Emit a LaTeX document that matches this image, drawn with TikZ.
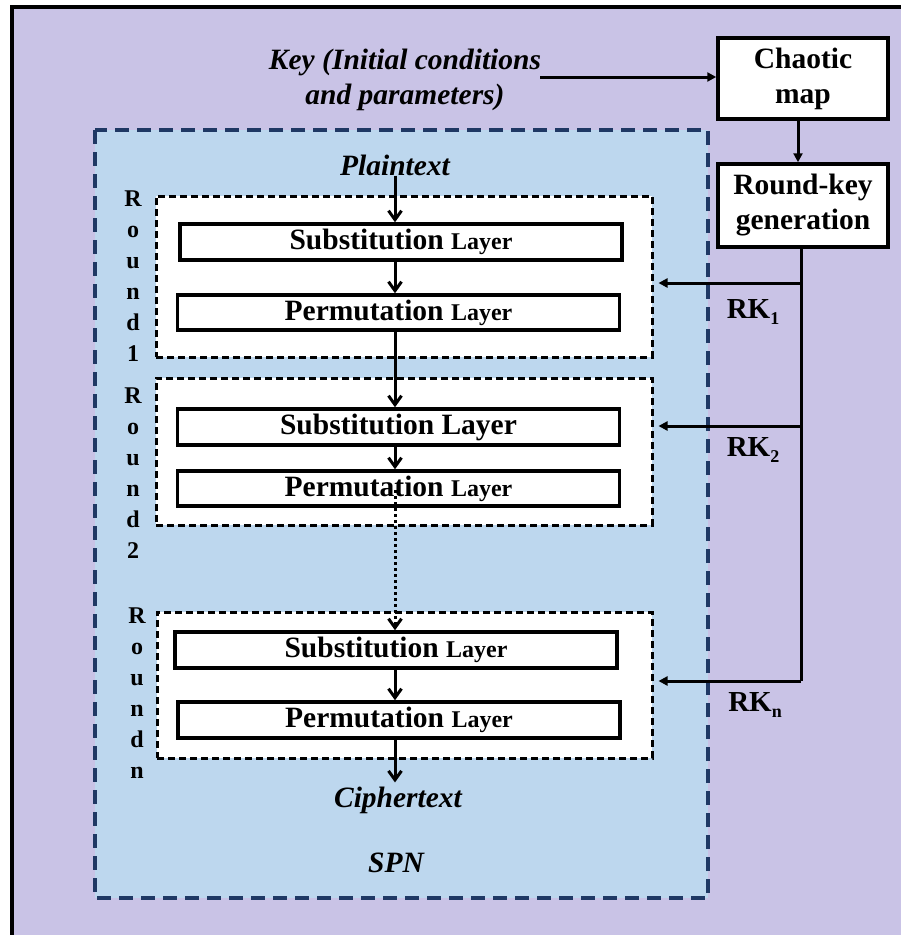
\documentclass[tikz,border=0pt]{standalone}
\usepackage{fontspec}
\setmainfont{Liberation Serif}
\usetikzlibrary{arrows.meta,calc}
\definecolor{lilac}{HTML}{C9C3E6}
\definecolor{paleblue}{HTML}{BDD7EE}
\definecolor{navy}{HTML}{1F3864}
\newcommand\smallword[1]{{\fontsize{24}{30}\selectfont #1}}
\newcommand\keysub[1]{\raisebox{-6pt}{\fontsize{18}{20}\selectfont #1}}

\begin{document}
\begin{tikzpicture}[x=1pt,y=-1pt,
  bigtxt/.style={font=\fontsize{29.5}{35}\selectfont\bfseries},
  itxt/.style={font=\fontsize{29.5}{35}\selectfont\bfseries\itshape},
  keybox/.style={draw, line width=3.5pt, fill=white, minimum width=170pt, inner sep=0pt, align=center, bigtxt},
  layerbox/.style={draw, line width=3.5pt, fill=white, minimum width=442pt, minimum height=35pt, inner sep=0pt, bigtxt},
  roundbox/.style={draw, line width=3pt, dash pattern=on 7pt off 4pt, fill=white, inner sep=0pt},
  roundlbl/.style={font=\fontsize{24}{31}\selectfont\bfseries, align=center, inner sep=0pt},
  rklbl/.style={font=\fontsize{29}{32}\selectfont\bfseries, inner sep=0pt},
  flow/.style={line width=3pt, -{Straight Barb[length=9pt,width=13pt,line width=3pt]}},
  feed/.style={line width=3pt, -{Triangle[length=9pt,width=9pt]}}
]
\useasboundingbox (0,0) rectangle (901,935);

% page background and frame
\fill[white] (0,0) rectangle (901,935);
\fill[lilac] (12,7) rectangle (901,935);
\draw[line width=3.5pt] (12,935) -- (12,7) -- (901,7);

% SPN area
\draw[navy, fill=paleblue, line width=3.2pt, dash pattern=on 14pt off 8pt] (95,130) rectangle (708,898);

% key input and key schedule
\node[itxt, align=center, inner sep=0pt] (key) at (405,80) {Key (Initial conditions\\and parameters)};
\coordinate (keyend) at (540,77);
\node[keybox, minimum height=81pt] (chaos) at (803,78.5) {Chaotic\\map};
\node[keybox, minimum height=83pt] (rkg) at (803,205.5) {Round-key\\generation};

% round containers
\node[roundbox, minimum width=496pt, minimum height=161pt] (r1) at (404,276.5) {};
\node[roundbox, minimum width=496pt, minimum height=147pt] (r2) at (404,451.5) {};
\node[roundbox, minimum width=495pt, minimum height=146pt] (rn) at (404.5,685) {};

% layers
\node[layerbox, minimum height=36pt] (s1) at (401,242) {Substitution \smallword{Layer}};
\node[layerbox] (p1) at (398.5,312.5) {Permutation \smallword{Layer}};
\node[layerbox, minimum height=36pt] (s2) at (398.5,427) {Substitution Layer};
\node[layerbox] (p2) at (398.5,488.5) {Permutation \smallword{Layer}};
\node[layerbox, minimum height=36pt] (sn) at (396,650) {Substitution \smallword{Layer}};
\node[layerbox, minimum height=36pt] (pn) at (399,720) {Permutation \smallword{Layer}};

% texts
\node[itxt, inner sep=0pt] (pt) at (395,165) {Plaintext};
\node[itxt, inner sep=0pt] (ct) at (398,800) {Ciphertext};
\node[itxt, inner sep=0pt] (spn) at (396,863) {SPN};

\node[roundlbl] (l1) at (133,276) {R\\o\\u\\n\\d\\1};
\node[roundlbl] (l2) at (133,473) {R\\o\\u\\n\\d\\2};
\node[roundlbl] (ln) at (137,693) {R\\o\\u\\n\\d\\n};

\node[rklbl] (rk1) at (753,312) {RK\keysub{1}};
\node[rklbl] (rk2) at (753,450) {RK\keysub{2}};
\node[rklbl] (rkn) at (755,705) {RK\keysub{n}};

% data path
\coordinate (ax) at (395,0);
\coordinate (dotstart) at (395,490);
\draw[flow] (pt.south -| ax) -- (s1.north -| ax);
\draw[flow] (s1.south -| ax) -- (p1.north -| ax);
\draw[flow] (p1.south -| ax) -- (s2.north -| ax);
\draw[flow] (s2.south -| ax) -- (p2.north -| ax);
\draw[line width=3pt, dash pattern=on 3pt off 3pt,
  -{Straight Barb[length=9pt,width=13pt,line width=3pt]}] (dotstart) -- (sn.north -| ax);
\draw[flow] (sn.south -| ax) -- (pn.north -| ax);
\draw[flow] (pn.south -| ax) -- ($(ct.north -| ax)+(0,-4)$);

% key path
\draw[feed] (keyend) -- (keyend -| chaos.west);
\draw[feed] ([xshift=-5pt]chaos.south) -- ([xshift=-5pt]rkg.north);
\coordinate (k1) at (801,283);
\coordinate (k2) at (801,426);
\coordinate (kn) at (801,681);
\draw[line width=3pt] (rkg.south -| k1) -- (kn);
\draw[feed, shorten >=5pt] (k1) -- (k1 -| r1.east);
\draw[feed, shorten >=5pt] (k2) -- (k2 -| r2.east);
\draw[feed, shorten >=5pt, line join=miter] (kn) -- (kn -| rn.east);
\end{tikzpicture}
\end{document}
